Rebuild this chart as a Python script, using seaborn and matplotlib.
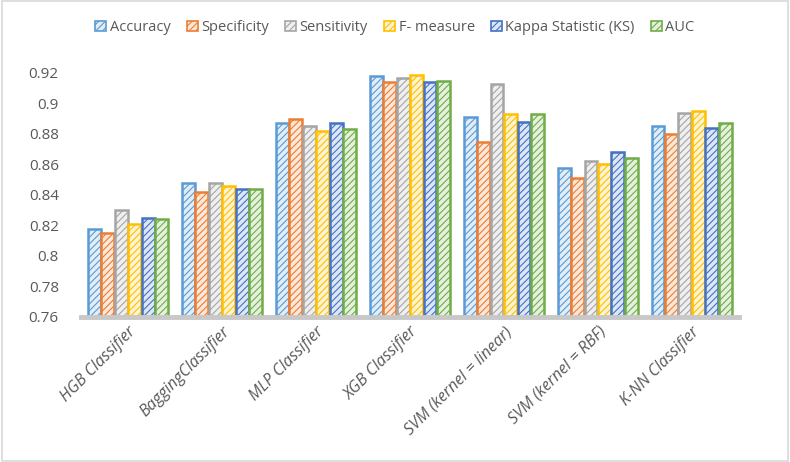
import matplotlib
matplotlib.use("Agg")
import matplotlib.pyplot as plt
import matplotlib.patches as mpatches
from matplotlib.colors import to_rgb
import seaborn as sns
import pandas as pd

# chart data
classifiers = ["HGB Classifier", "BaggingClassifier", "MLP Classifier", "XGB Classifier",
               "SVM (kernel = linear)", "SVM (kernel = RBF)", "K-NN Classifier"]
metrics = ["Accuracy", "Specificity", "Sensitivity", "F- measure", "Kappa Statistic (KS)", "AUC"]

accuracy    = [0.818, 0.848, 0.887, 0.918, 0.891, 0.858, 0.885]
specificity = [0.815, 0.842, 0.890, 0.914, 0.875, 0.851, 0.880]
sensitivity = [0.830, 0.848, 0.885, 0.917, 0.913, 0.862, 0.894]
f_measure   = [0.821, 0.846, 0.882, 0.919, 0.893, 0.860, 0.895]
kappa       = [0.825, 0.844, 0.887, 0.914, 0.888, 0.868, 0.884]
auc         = [0.824, 0.844, 0.883, 0.915, 0.893, 0.864, 0.887]

y_ticks = [0.76, 0.78, 0.80, 0.82, 0.84, 0.86, 0.88, 0.90, 0.92]

colours = ["#5B9BD5", "#ED7D31", "#A5A5A5", "#FFC000", "#4472C4", "#70AD47"]

# long format table for seaborn
series = [accuracy, specificity, sensitivity, f_measure, kappa, auc]
rows = []
for metric, values in zip(metrics, series):
    for clf, v in zip(classifiers, values):
        rows.append({"Classifier": clf, "Metric": metric, "Value": v})
df = pd.DataFrame(rows)

sns.set_theme(style="white")
plt.rcParams["font.family"] = ["Open Sans", "DejaVu Sans"]
plt.rcParams["hatch.linewidth"] = 0.8

fig = plt.figure(figsize=(7.9, 4.62), dpi=100)
ax = fig.add_axes([0.1025, 0.314, 0.8325, 0.528])

sns.barplot(data=df, x="Classifier", y="Value", hue="Metric", hue_order=metrics,
            order=classifiers, palette=colours, width=0.86, gap=0.04,
            legend=False, ax=ax)


def tint(c, amount=0.18):
    r, g, b = to_rgb(c)
    return (1 - amount * (1 - r), 1 - amount * (1 - g), 1 - amount * (1 - b))


# hatched Excel-style bars
for container, col in zip(ax.containers, colours):
    for bar in container:
        bar.set_facecolor(tint(col))
        bar.set_edgecolor(col)
        bar.set_hatch("/////")
        bar.set_linewidth(1.8)

ax.set_ylim(0.76, 0.92)
ax.set_xlim(-0.5, len(classifiers) - 0.5)
ax.set_yticks(y_ticks)
ax.set_yticklabels([f"{t:g}" for t in y_ticks], fontsize=11, color="#595959")
ax.tick_params(axis="y", length=0, pad=16)
ax.tick_params(axis="x", length=0, pad=5)
ax.set_xticks(range(len(classifiers)))
ax.set_xticklabels(classifiers, rotation=45, ha="right", rotation_mode="anchor",
                   fontsize=11.5, color="#595959", style="italic")
ax.set_xlabel("")
ax.set_ylabel("")
for side in ["top", "right", "left"]:
    ax.spines[side].set_visible(False)
ax.spines["bottom"].set_color("#C8C8C8")
ax.spines["bottom"].set_linewidth(3.5)
ax.set_facecolor("none")

# legend on top
handles = [mpatches.Patch(facecolor=tint(c), edgecolor=c, hatch="/////", linewidth=1.2, label=m)
           for m, c in zip(metrics, colours)]
fig.legend(handles=handles, loc="center", bbox_to_anchor=(0.5, 0.94), ncol=6,
           frameon=False, fontsize=10.5, handlelength=0.75, handleheight=0.75,
           handletextpad=0.25, columnspacing=1.1, labelcolor="#595959")

# light border round the chart
fig.patches.append(mpatches.Rectangle((0.002, 0.003), 0.996, 0.994, transform=fig.transFigure,
                                      fill=False, edgecolor="#D9D9D9", linewidth=1.2))

plt.savefig("out.png", dpi=100)
plt.close()
